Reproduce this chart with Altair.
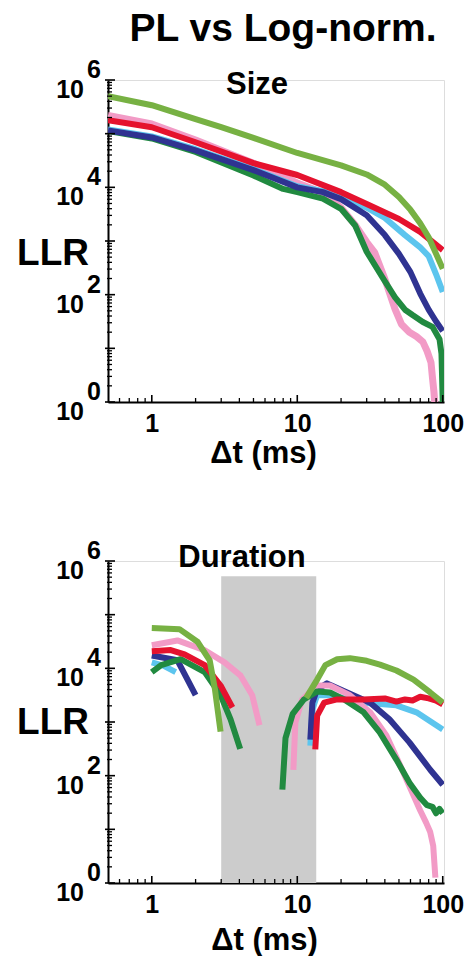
import altair as alt
import numpy as np
import pandas as pd

# ---------------------------------------------------------------------------
# Log-likelihood ratio (power law vs. log-normal) against bin width Δt.
# Each series: Δt in ms and log10(LLR).
# ---------------------------------------------------------------------------

# --- Size ---
size_green_dt = [0.5, 1, 2, 3, 5, 10, 20, 30, 40, 50, 60, 70, 80, 90, 100]
size_green_lg = [5.70, 5.53, 5.27, 5.12, 4.92, 4.64, 4.41, 4.24, 4.05, 3.82, 3.58, 3.33, 3.07, 2.76, 2.48]

size_red_dt = [0.5, 1, 2, 5, 10, 20, 30, 50, 70, 100]
size_red_lg = [5.25, 5.12, 4.84, 4.45, 4.23, 3.91, 3.69, 3.41, 3.17, 2.83]

size_pink_dt = [0.5, 1, 2, 5, 10, 15, 20, 25, 30, 34, 40, 47, 52, 59, 66, 73, 78, 83, 85, 87, 88]
size_pink_lg = [5.34, 5.18, 4.88, 4.45, 4.08, 3.90, 3.62, 3.30, 2.98, 2.79, 2.29, 1.73, 1.45, 1.30,
                1.22, 1.12, 0.95, 0.74, 0.45, 0.19, 0.0]

size_dkgreen_dt = [0.5, 1, 2, 5, 8, 10, 15, 20, 25, 30, 40, 47, 55, 62, 73, 85, 95, 98, 100]
size_dkgreen_lg = [5.05, 4.91, 4.66, 4.22, 3.97, 3.91, 3.79, 3.60, 3.29, 2.80, 2.25, 1.95, 1.72, 1.62,
                   1.49, 1.40, 1.17, 0.90, 0.0]

size_navy_dt = [0.5, 1, 2, 5, 10, 15, 20, 30, 40, 50, 60, 70, 80, 90, 100]
size_navy_lg = [5.06, 4.93, 4.69, 4.32, 4.00, 3.91, 3.78, 3.48, 3.11, 2.76, 2.42, 2.02, 1.72, 1.50, 1.32]

size_sky_dt = [0.5, 1, 2, 5, 10, 15, 20, 30, 40, 55, 70, 80, 90, 100]
size_sky_lg = [5.08, 4.95, 4.71, 4.34, 4.02, 3.93, 3.82, 3.62, 3.43, 3.11, 2.88, 2.72, 2.38, 2.05]

# --- Duration (two branches per series, split by the shaded gap) ---
dur_green_a_dt = [1, 1.55, 2.07, 2.5, 2.72, 2.97]
dur_green_a_lg = [4.75, 4.73, 4.49, 4.15, 3.60, 2.82]
dur_green_b_dt = [11.5, 13.7, 15.6, 18.8, 23, 30, 37, 48, 63, 82, 100]
dur_green_b_lg = [3.45, 3.79, 4.06, 4.17, 4.19, 4.14, 4.07, 3.96, 3.79, 3.55, 3.36]

dur_red_a_dt = [1, 1.35, 1.68, 2.31, 2.97, 3.58]
dur_red_a_lg = [4.32, 4.34, 4.26, 4.06, 3.68, 3.27]
dur_red_b_dt = [13.3, 13.7, 15.3, 18.8, 28.6, 40, 48, 55, 62, 70, 80, 90, 100]
dur_red_b_lg = [2.49, 3.12, 3.36, 3.42, 3.42, 3.44, 3.38, 3.42, 3.40, 3.47, 3.44, 3.40, 3.33]

dur_pink_a_dt = [1, 1.5, 2.3, 3.16, 4.06, 4.9, 5.5]
dur_pink_a_lg = [4.43, 4.52, 4.34, 4.11, 3.87, 3.50, 2.94]
dur_pink_b_dt = [9.4, 9.7, 10.8, 13.7, 16.8, 23, 31.7, 41, 51, 63, 70, 77, 82, 86, 89]
dur_pink_b_lg = [2.11, 2.99, 3.42, 3.68, 3.68, 3.50, 3.18, 2.75, 2.19, 1.63, 1.35, 1.12, 0.95, 0.69, 0.10]

dur_dkgreen_a_dt = [1, 1.16, 1.58, 2.31, 2.97, 3.48, 4.05]
dur_dkgreen_a_lg = [3.93, 4.06, 4.17, 3.93, 3.50, 3.05, 2.50]
dur_dkgreen_b_dt = [7.9, 8.3, 9.3, 11.1, 13.7, 16.8, 21, 28.6, 37, 48, 59, 70, 78, 85, 90, 95, 100]
dur_dkgreen_b_lg = [1.74, 2.70, 3.15, 3.42, 3.57, 3.55, 3.42, 3.18, 2.80, 2.30, 1.87, 1.59, 1.45,
                    1.42, 1.30, 1.38, 1.30]

dur_navy_a_dt = [1, 1.5, 1.76, 2.0]
dur_navy_a_lg = [4.24, 4.15, 3.79, 3.50]
dur_navy_b_dt = [12.3, 12.7, 13.7, 16, 22, 31.7, 43, 59, 82, 100]
dur_navy_b_lg = [2.67, 3.36, 3.61, 3.72, 3.55, 3.36, 3.05, 2.62, 2.11, 1.83]

dur_sky_a_dt = [1, 1.2, 1.46]
dur_sky_a_lg = [4.11, 4.05, 3.93]
dur_sky_b_dt = [12.3, 12.7, 13.7, 16.8, 28.6, 48, 66, 100]
dur_sky_b_lg = [2.56, 3.23, 3.50, 3.50, 3.36, 3.31, 3.18, 2.86]

# Shaded Δt band in the duration panel
shade_dt = [3.0, 13.5]
shade_llr = [1, 5.2e5]

# Axis ticks / labels
y_label_exps = [0, 2, 4, 6]
y_major = [10.0 ** k for k in range(0, 7)]
y_minor = [m * 10.0 ** k for k in range(0, 6) for m in range(2, 10)]
x_labels = [1, 10, 100]
x_minor = [0.6, 0.7, 0.8, 0.9] + [m * 10.0 ** k for k in range(0, 2) for m in range(2, 10)]

COLORS = {
    "green": "#77b143",
    "red": "#e5122e",
    "pink": "#f29bc6",
    "navy": "#2f3391",
    "sky": "#5cc5ee",
    "dkgreen": "#218a40",
}

FONT = "Liberation Sans"
W, H = 336, 322
X_DOMAIN = [0.5, 102]
Y_DOMAIN = [1, 1e6]


def series_frame(branches):
    rows = []
    for seg, (dts, lgs) in enumerate(branches):
        for i, (t, lg) in enumerate(zip(dts, lgs)):
            rows.append({"dt": t, "llr": 10.0 ** lg, "seg": seg, "i": i})
    return pd.DataFrame(rows)


def panel(series, label, label_xy, llr_y, title_x, title_y, shade=False, heading=None):
    xs = alt.Scale(type="log", domain=X_DOMAIN, nice=False)
    ys = alt.Scale(type="log", domain=Y_DOMAIN, nice=False)

    # identical axis definitions on every layer so that they merge into one
    x_axis = alt.Axis(
        values=x_labels, format="d", ticks=False, grid=False,
        domainColor="black", domainWidth=2,
        labelFont=FONT, labelFontSize=25, labelFontWeight="bold", labelColor="black",
        labelPadding=9, labelFlush=False, labelOverlap=False,
        title="Δt (ms)", titleFont=FONT, titleFontSize=31, titleFontWeight="bold",
        titleColor="black", titleX=title_x, titleY=title_y, titleBaseline="alphabetic",
    )
    y_axis = alt.Axis(labels=False, ticks=False, grid=False, title=None,
                      domainColor="black", domainWidth=2)

    def X(field):
        return alt.X(field, scale=xs, axis=x_axis)

    def Y(field):
        return alt.Y(field, scale=ys, axis=y_axis)

    layers = []
    if shade:
        band = pd.DataFrame({"x0": [shade_dt[0]], "x1": [shade_dt[1]],
                             "y0": [shade_llr[0]], "y1": [shade_llr[1]]})
        layers.append(alt.Chart(band).mark_rect(color="#cccccc").encode(
            x=X("x0:Q"), x2="x1:Q", y=Y("y0:Q"), y2="y1:Q"))

    for name, branches, width in series:
        df = series_frame(branches)
        layers.append(alt.Chart(df).mark_line(
            color=COLORS[name], strokeWidth=width, strokeJoin="round", strokeCap="butt",
            clip=True,
        ).encode(x=X("dt:Q"), y=Y("llr:Q"), detail="seg:N", order="i:Q"))

    # inward ticks
    ymaj = pd.DataFrame({"v": y_major})
    ymin = pd.DataFrame({"v": y_minor})
    xmaj = pd.DataFrame({"t": x_labels})
    xmin = pd.DataFrame({"t": x_minor})
    layers.append(alt.Chart(ymaj).mark_rule(color="black", strokeWidth=1.6).encode(
        y=Y("v:Q"), x=alt.value(-3), x2=alt.value(7)))
    layers.append(alt.Chart(ymin).mark_rule(color="black", strokeWidth=1.3).encode(
        y=Y("v:Q"), x=alt.value(-1), x2=alt.value(4)))
    layers.append(alt.Chart(xmaj).mark_rule(color="black", strokeWidth=1.6).encode(
        x=X("t:Q"), y=alt.value(H), y2=alt.value(H - 7)))
    layers.append(alt.Chart(xmin).mark_rule(color="black", strokeWidth=1.3).encode(
        x=X("t:Q"), y=alt.value(H), y2=alt.value(H - 4)))

    # y tick labels: "10" with the exponent raised beside it
    ylab = pd.DataFrame({"v": [10.0 ** e for e in y_label_exps],
                         "base": ["10"] * len(y_label_exps),
                         "exp": [str(e) for e in y_label_exps]})
    layers.append(alt.Chart(ylab).mark_text(
        font=FONT, fontSize=25, fontWeight="bold", color="black",
        align="right", baseline="alphabetic", dy=18).encode(
        y=Y("v:Q"), x=alt.value(-24), text="base:N"))
    layers.append(alt.Chart(ylab).mark_text(
        font=FONT, fontSize=25, fontWeight="bold", color="black",
        align="left", baseline="alphabetic", dy=-2).encode(
        y=Y("v:Q"), x=alt.value(-21), text="exp:N"))

    one = pd.DataFrame({"s": [0]})
    layers.append(alt.Chart(one).mark_text(
        text="LLR", font=FONT, fontSize=37, fontWeight="bold", color="black",
        align="right", baseline="alphabetic").encode(
        x=alt.value(-19), y=alt.value(llr_y)))
    layers.append(alt.Chart(one).mark_text(
        text=label, font=FONT, fontSize=31, fontWeight="bold", color="black",
        align="center", baseline="alphabetic").encode(
        x=alt.value(label_xy[0]), y=alt.value(label_xy[1])))
    if heading:
        layers.append(alt.Chart(one).mark_text(
            text=heading, font=FONT, fontSize=39, fontWeight="bold", color="black",
            align="center", baseline="alphabetic").encode(
            x=alt.value(175), y=alt.value(-39)))

    return alt.layer(*layers).properties(width=W, height=H)


size_series = [
    ("pink", [(size_pink_dt, size_pink_lg)], 7),
    ("dkgreen", [(size_dkgreen_dt, size_dkgreen_lg)], 6),
    ("sky", [(size_sky_dt, size_sky_lg)], 6),
    ("navy", [(size_navy_dt, size_navy_lg)], 6),
    ("red", [(size_red_dt, size_red_lg)], 6),
    ("green", [(size_green_dt, size_green_lg)], 6),
]
dur_series = [
    ("sky", [(dur_sky_a_dt, dur_sky_a_lg), (dur_sky_b_dt, dur_sky_b_lg)], 6),
    ("navy", [(dur_navy_a_dt, dur_navy_a_lg), (dur_navy_b_dt, dur_navy_b_lg)], 6),
    ("pink", [(dur_pink_a_dt, dur_pink_a_lg), (dur_pink_b_dt, dur_pink_b_lg)], 6),
    ("dkgreen", [(dur_dkgreen_a_dt, dur_dkgreen_a_lg), (dur_dkgreen_b_dt, dur_dkgreen_b_lg)], 6),
    ("red", [(dur_red_a_dt, dur_red_a_lg), (dur_red_b_dt, dur_red_b_lg)], 6),
    ("green", [(dur_green_a_dt, dur_green_a_lg), (dur_green_b_dt, dur_green_b_lg)], 6),
]

top = panel(size_series, "Size", (149, 14), 185, 155, 60, heading="PL vs Log-norm.")
bottom = panel(dur_series, "Duration", (134, 6), 173, 156, 66, shade=True)

chart = alt.vconcat(top, bottom, spacing=159, bounds="flush").properties(
    padding={"left": 16, "top": 9, "right": 0, "bottom": 0}
).configure_view(stroke=None).configure(background="white")

chart.save("out.html", embed_options={"renderer": "svg", "actions": False})
